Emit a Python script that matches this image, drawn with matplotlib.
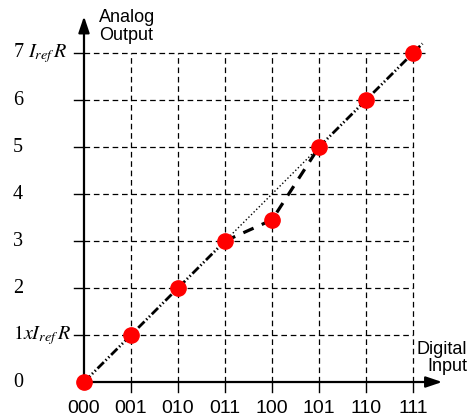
import matplotlib
matplotlib.use("Agg")
import matplotlib.pyplot as plt

# datos del grafico
codigos = ['000', '001', '010', '011', '100', '101', '110', '111']
niveles = [0, 1, 2, 3, 3.45, 5, 6, 7]
etiquetasY = ['0', r'$\mathit{1x}I_{ref}\,R$', '2', '3', '4', '5', '6', r'7 $I_{ref}\,R$']

plt.rcParams['mathtext.fontset'] = 'stix'

fig = plt.figure(figsize=(4.69, 4.19), dpi=100)
ax = fig.add_axes([0, 0, 1, 1])
ax.set_xlim(-1.787, 8.191)
ax.set_ylim(-0.787, 8.128)
ax.axis('off')

n = len(codigos)
xs = list(range(n))

# rejilla discontinua
for i in range(1, n):
    fin = 7.25 if i == n - 1 else n - 1
    ax.plot([0, fin], [i, i], color='k', lw=0.9, dashes=(4.5, 3), zorder=1)
    ax.plot([-0.22, 0], [i, i], color='k', lw=1.0, zorder=1)
for i in range(1, n):
    ax.plot([i, i], [0, n - 1], color='k', lw=0.9, dashes=(4.5, 3), zorder=1)
    ax.plot([i, i], [-0.22, 0], color='k', lw=1.0, zorder=1)

# ejes con flechas
flecha = dict(arrowstyle='-|>,head_length=0.65,head_width=0.22', lw=1.6, color='k',
              mutation_scale=15, shrinkA=0, shrinkB=0)
ax.annotate('', xy=(0, 7.78), xytext=(0, 0), arrowprops=flecha)
ax.annotate('', xy=(7.62, 0), xytext=(0, 0), arrowprops=flecha)

# linea ideal y respuesta real
patron = (3.2, 0.9, 0.5, 0.9, 0.5, 0.9)
ax.plot(xs[:4], xs[:4], color='k', lw=2.0, dashes=patron, zorder=3)
ax.plot([5, 6, 7, 7.2], [5, 6, 7, 7.2], color='k', lw=2.0, dashes=patron, zorder=3)
ax.plot([3, 5], [3, 5], color='k', lw=1.0, ls=':', zorder=3)
ax.plot(xs[3:6], niveles[3:6], color='k', lw=2.3, dashes=(3.5, 2.8), zorder=3)
ax.plot(xs, niveles, ls='none', marker='o', ms=11, color='#ff0000', zorder=4)

# etiquetas
for i, c in enumerate(codigos):
    ax.text(i, -0.57, c, ha='center', va='center', fontsize=14, family='Liberation Sans')
for i, t in enumerate(etiquetasY):
    ax.text(-1.51, i, t, ha='left', va='center', fontsize=14.5, family='Liberation Serif')

ax.text(0.32, 7.57, 'Analog\nOutput', ha='left', va='center', fontsize=13,
        family='Liberation Sans', linespacing=1.05)
ax.text(8.15, 0.51, 'Digital\nInput', ha='right', va='center', fontsize=13,
        family='Liberation Sans', multialignment='right', linespacing=1.05)

fig.savefig('out.png', dpi=100)
